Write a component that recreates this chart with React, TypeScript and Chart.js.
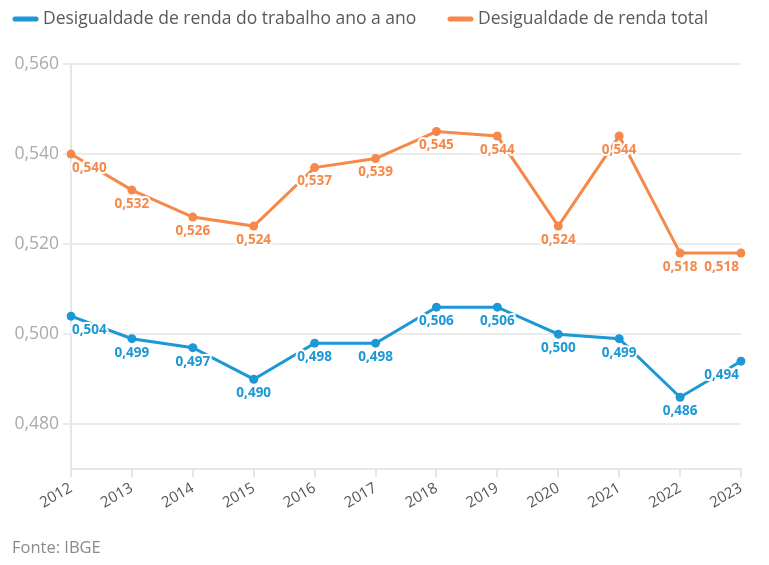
import React, { useEffect, useRef } from "react";
import { Chart, registerables } from "chart.js";

Chart.register(...registerables);

const years = ["2012", "2013", "2014", "2015", "2016", "2017", "2018", "2019", "2020", "2021", "2022", "2023"];
const trabalho = [0.504, 0.499, 0.497, 0.49, 0.498, 0.498, 0.506, 0.506, 0.5, 0.499, 0.486, 0.494];
const total = [0.54, 0.532, 0.526, 0.524, 0.537, 0.539, 0.545, 0.544, 0.524, 0.544, 0.518, 0.518];
const yTicks = [0.48, 0.5, 0.52, 0.54, 0.56];
const seriesNames = ["Desigualdade de renda do trabalho ano a ano", "Desigualdade de renda total"];
const source = "Fonte: IBGE";

const BLUE = "#1b98d5";
const ORANGE = "#f5894a";
const FONT = "'Open Sans', sans-serif";

const fmt = (v: number) => v.toFixed(3).replace(".", ",");

const labelPlugin = {
  id: "pointLabels",
  afterDatasetsDraw(chart: any) {
    const ctx = chart.ctx;
    const area = chart.chartArea;
    ctx.save();
    ctx.font = `bold 13.5px ${FONT}`;
    ctx.textBaseline = "middle";
    ctx.textAlign = "center";
    ctx.lineJoin = "round";
    chart.data.datasets.forEach((ds: any, i: number) => {
      const meta = chart.getDatasetMeta(i);
      meta.data.forEach((pt: any, j: number) => {
        const text = fmt(ds.data[j]);
        const w = ctx.measureText(text).width;
        let x = pt.x;
        if (x - w / 2 < area.left + 1) x = area.left + 1 + w / 2;
        if (x + w / 2 > area.right - 2) x = area.right - 2 - w / 2;
        const y = pt.y + 14;
        ctx.strokeStyle = "#ffffff";
        ctx.lineWidth = 4;
        ctx.strokeText(text, x, y);
        ctx.fillStyle = ds.borderColor;
        ctx.fillText(text, x, y);
      });
    });
    ctx.restore();
  },
};

const legendItemX = [13, 448];

const legendFootPlugin = {
  id: "legendFoot",
  afterDraw(chart: any) {
    const ctx = chart.ctx;
    ctx.save();
    ctx.font = `17.5px ${FONT}`;
    ctx.textBaseline = "middle";
    ctx.textAlign = "left";
    chart.data.datasets.forEach((ds: any, i: number) => {
      const x0 = legendItemX[i];
      const y = 19;
      ctx.strokeStyle = ds.borderColor;
      ctx.lineWidth = 5;
      ctx.lineCap = "round";
      ctx.beginPath();
      ctx.moveTo(x0 + 2, y);
      ctx.lineTo(x0 + 23, y);
      ctx.stroke();
      ctx.fillStyle = "#595959";
      ctx.fillText(ds.label, x0 + 30, y);
    });
    ctx.font = `16.5px ${FONT}`;
    ctx.fillStyle = "#8a8a8a";
    ctx.fillText(source, 12, 548);
    ctx.restore();
  },
};

export default function App() {
  const ref = useRef<HTMLCanvasElement | null>(null);
  useEffect(() => {
    if (!ref.current) return;
    const chart = new Chart(ref.current, {
      type: "line",
      data: {
        labels: years,
        datasets: [
          {
            label: seriesNames[0],
            data: trabalho,
            borderColor: BLUE,
            backgroundColor: BLUE,
            borderWidth: 3,
            pointRadius: 4.5,
            pointBorderWidth: 0,
            pointBackgroundColor: BLUE,
            tension: 0,
          },
          {
            label: seriesNames[1],
            data: total,
            borderColor: ORANGE,
            backgroundColor: ORANGE,
            borderWidth: 3,
            pointRadius: 4.5,
            pointBorderWidth: 0,
            pointBackgroundColor: ORANGE,
            tension: 0,
          },
        ],
      },
      options: {
        animation: false,
        responsive: false,
        maintainAspectRatio: false,
        layout: { padding: { left: 0, right: 28, top: 64, bottom: 51 } },
        plugins: {
          legend: { display: false },
          tooltip: { enabled: false },
        },
        scales: {
          x: {
            offset: false,
            grid: { drawOnChartArea: false, color: "#e6e6e6", lineWidth: 2, tickLength: 8 },
            border: { color: "#e6e6e6", width: 2 },
            ticks: {
              minRotation: 30,
              maxRotation: 30,
              color: "#555555",
              font: { family: FONT, size: 15 },
              padding: 2,
            },
          },
          y: {
            min: 0.47,
            max: 0.56,
            afterBuildTicks(axis: any) {
              axis.ticks = yTicks.map((v) => ({ value: v }));
            },
            afterFit(axis: any) {
              axis.width = 71;
            },
            grid: { color: "#ebebeb", lineWidth: 2, tickLength: 8 },
            border: { color: "#e6e6e6", width: 2 },
            ticks: {
              color: "#aaaaaa",
              font: { family: FONT, size: 17.5 },
              padding: 4,
              callback: (v: any) => fmt(Number(v)),
            },
          },
        },
      },
      plugins: [labelPlugin, legendFootPlugin],
    });
    return () => chart.destroy();
  }, []);
  return (
    <div style={{ position: "fixed", left: 0, top: 0, width: 769, height: 565, background: "#fff" }}>
      <canvas ref={ref} width={769} height={565} style={{ width: 769, height: 565, display: "block" }} />
    </div>
  );
}
